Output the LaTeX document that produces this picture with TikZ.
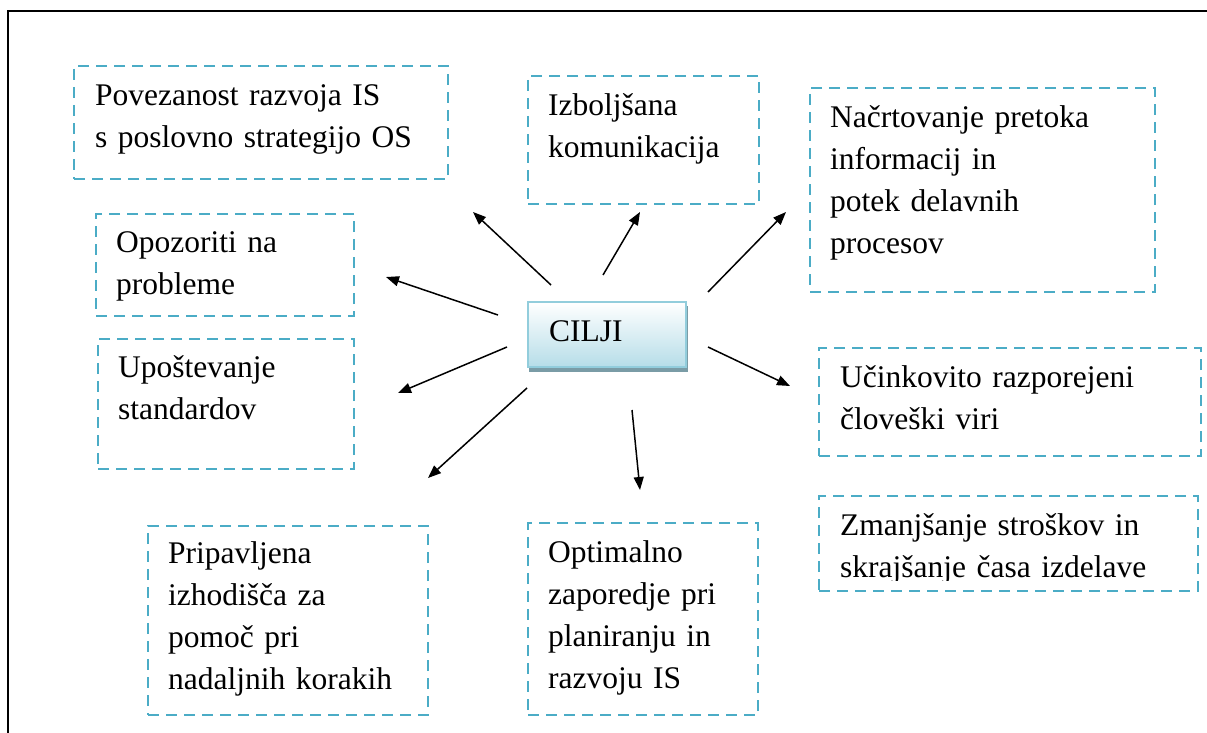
\documentclass[tikz,border=0pt]{standalone}
\usepackage{fontspec}
\setmainfont{Liberation Serif}
\usetikzlibrary{arrows.meta}
\definecolor{dashblue}{RGB}{75,172,198}
\definecolor{coreedge}{RGB}{146,205,220}
\definecolor{corefill}{RGB}{182,221,232}
\definecolor{coreshadow}{RGB}{122,156,166}
\tikzset{
  goalbox/.style={draw=dashblue, line width=2pt, dash pattern=on 11pt off 7pt,
    anchor=north west, inner sep=0pt},
  goaltext/.style={anchor=north west, inner sep=0pt, align=left, text width=360pt,
    font=\fontsize{31.5}{42}\selectfont},
  corebox/.style={draw=coreedge, line width=2pt, top color=white, bottom color=corefill,
    anchor=north west, minimum width=158pt, minimum height=65pt,
    inner xsep=21pt, inner ysep=0pt, text width=116pt, align=left,
    text height=21pt, text depth=8pt, font=\fontsize{31.5}{42}\selectfont},
  arr/.style={line width=1.5pt, -{Triangle[length=13pt,width=10pt]}},
  frame/.style={line width=2pt, black}
}
\begin{document}
\begin{tikzpicture}[x=1pt,y=-1pt]
\useasboundingbox (0,0) rectangle (1207,733);

% page frame
\draw[frame] (7.5,745) -- (7.5,11) -- (1220,11);

% central goal box with its shadow
\fill[coreshadow] (529,306) rectangle (688,372);
\node[corebox] (core) at (527,301) {CILJI};

% goal boxes
\node[goalbox, minimum width=374pt, minimum height=113pt] (b1) at (73,65) {};
\node[goalbox, minimum width=231pt, minimum height=128pt] (b2) at (527,75) {};
\node[goalbox, minimum width=345pt, minimum height=204pt] (b3) at (809,87) {};
\node[goalbox, minimum width=258pt, minimum height=102pt] (b4) at (95,213) {};
\node[goalbox, minimum width=256pt, minimum height=130pt] (b5) at (97,338) {};
\node[goalbox, minimum width=280pt, minimum height=189pt] (b6) at (147,525) {};
\node[goalbox, minimum width=230pt, minimum height=192pt] (b7) at (527,522) {};
\node[goalbox, minimum width=382pt, minimum height=108pt] (b8) at (818,347) {};
\node[goalbox, minimum width=379pt, minimum height=95pt] (b9) at (818,495) {};

% texts of the goals
\node[goaltext] (t1) at (95,75.6) {\strut Povezanost razvoja IS\\s poslovno strategijo OS};
\node[goaltext] (t2) at (548,85.6) {\strut Izboljšana\\komunikacija};
\node[goaltext] (t3) at (830,97.6) {\strut Načrtovanje pretoka\\informacij in\\potek delavnih\\procesov};
\node[goaltext] (t4) at (116,222.6) {\strut Opozoriti na\\probleme};
\node[goaltext] (t5) at (118,347.6) {\strut Upoštevanje\\standardov};
\node[goaltext] (t6) at (168,533.6) {\strut Pripavljena\\izhodišča za\\pomoč pri\\nadaljnih korakih};
\node[goaltext] (t7) at (548,532.6) {\strut Optimalno\\zaporedje pri\\planiranju in\\razvoju IS};
\node[goaltext] (t8) at (840,357.6) {\strut Učinkovito razporejeni\\človeški viri};
\begin{scope}
  \clip (818,495) rectangle (1197,580);
  \node[goaltext] (t9) at (840,505.6) {\strut Zmanjšanje stroškov in\\skrajšanje časa izdelave};
\end{scope}

% arrow ends
\coordinate (s1) at (551,285); \coordinate (e1) at (473,212);
\coordinate (s2) at (603,275); \coordinate (e2) at (640,212);
\coordinate (s3) at (708,292); \coordinate (e3) at (786,212);
\coordinate (s4) at (498,315); \coordinate (e4) at (386,277);
\coordinate (s5) at (708,347); \coordinate (e5) at (790,386);
\coordinate (s6) at (507,347); \coordinate (e6) at (398,393);
\coordinate (s7) at (527,388); \coordinate (e7) at (428,478);
\coordinate (s8) at (632,410); \coordinate (e8) at (640,490);

\foreach \i in {1,...,8} \draw[arr] (s\i) -- (e\i);
\end{tikzpicture}
\end{document}
